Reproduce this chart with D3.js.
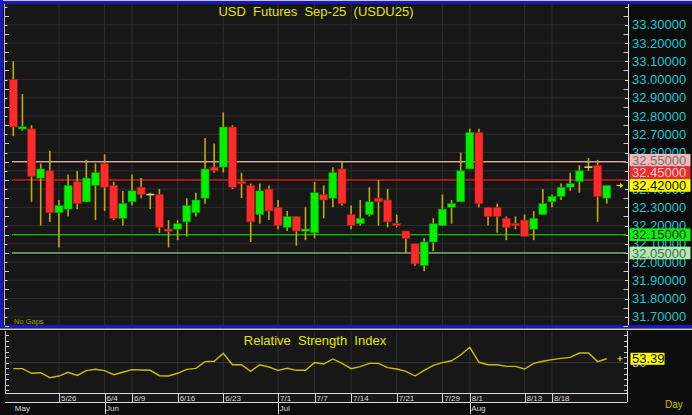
<!DOCTYPE html>
<html><head><meta charset="utf-8">
<script src="https://cdn.jsdelivr.net/npm/d3@7"></script>
<style>
html,body{margin:0;padding:0;background:#0c0c0c;}
svg{display:block;}
text{font-family:"Liberation Sans",Arial,sans-serif;}
</style></head><body>
<svg id="c" width="692" height="415"></svg>
<script>
// ---------------- data ----------------
const dates = ["5/19","5/20","5/21","5/22","5/23","5/26","5/27","5/28","5/29","5/30",
  "6/4","6/5","6/6","6/9","6/10","6/11","6/12","6/13","6/16","6/17","6/18","6/19","6/20",
  "6/23","6/24","6/25","6/26","6/27","6/30","7/1","7/2","7/3","7/4","7/7","7/8","7/9","7/10",
  "7/14","7/15","7/16","7/17","7/18","7/21","7/22","7/23","7/24","7/25","7/29","7/30","7/31",
  "8/1","8/4","8/5","8/6","8/7","8/8","8/13","8/14","8/15","8/18","8/19","8/20","8/21","8/22",
  "8/25","8/26"];
const openV  = [33.00,32.73,32.73,32.46,32.50,32.27,32.29,32.44,32.33,32.42,32.54,32.42,32.24,32.33,32.41,32.37,32.37,32.18,32.18,32.22,32.27,32.35,32.52,32.52,32.74,32.44,32.42,32.26,32.40,32.30,32.19,32.25,32.17,32.16,32.37,32.35,32.51,32.26,32.21,32.26,32.35,32.34,32.21,32.17,32.10,31.98,32.11,32.20,32.30,32.33,32.51,32.71,32.30,32.30,32.24,32.21,32.23,32.18,32.26,32.33,32.36,32.41,32.44,32.52,32.53,32.35];
const highV  = [33.10,32.92,32.75,32.54,32.61,32.34,32.48,32.50,32.56,32.54,32.59,32.44,32.39,32.48,32.46,32.38,32.40,32.23,32.23,32.35,32.38,32.68,32.65,32.82,32.75,32.49,32.43,32.43,32.42,32.34,32.28,32.25,32.30,32.44,32.42,32.52,32.55,32.31,32.34,32.41,32.45,32.40,32.26,32.17,32.10,32.13,32.24,32.37,32.34,32.60,32.73,32.73,32.30,32.32,32.25,32.25,32.26,32.28,32.40,32.37,32.43,32.49,32.53,32.57,32.56,32.42];
const lowV   = [32.69,32.72,32.33,32.20,32.22,32.08,32.25,32.29,32.33,32.23,32.28,32.23,32.20,32.31,32.35,32.29,32.16,32.08,32.12,32.14,32.25,32.32,32.49,32.49,32.40,32.35,32.11,32.21,32.23,32.18,32.17,32.09,32.12,32.13,32.24,32.30,32.31,32.18,32.20,32.25,32.20,32.19,32.19,32.05,31.98,31.95,32.06,32.20,32.21,32.33,32.51,32.30,32.20,32.16,32.12,32.18,32.14,32.12,32.26,32.30,32.34,32.39,32.38,32.50,32.22,32.32];
const closeV = [32.74,32.74,32.47,32.51,32.27,32.31,32.42,32.32,32.46,32.49,32.41,32.24,32.32,32.39,32.37,32.37,32.19,32.17,32.21,32.31,32.34,32.51,32.50,32.74,32.41,32.43,32.22,32.39,32.28,32.20,32.25,32.17,32.18,32.38,32.34,32.49,32.32,32.20,32.24,32.33,32.33,32.22,32.20,32.13,31.99,32.11,32.21,32.29,32.32,32.50,32.71,32.32,32.25,32.25,32.19,32.20,32.14,32.24,32.32,32.36,32.41,32.43,32.50,32.52,32.36,32.42];
const rsiV = [44.4,44.4,40.2,40.7,36.2,37.7,41.1,38.3,42.6,43.8,
  42.6,38.9,41.1,43.5,43.2,42.9,38.0,37.7,40.2,43.8,
  44.7,50.8,51.1,58.3,48.0,48.0,42.0,48.0,45.9,42.9,
  44.7,42.9,42.9,49.9,48.6,53.2,49.2,44.4,46.2,49.2,
  49.2,45.3,44.1,42.0,37.7,42.9,47.4,49.9,51.6,56.8,
  63.8,50.2,48.0,48.0,46.5,46.5,44.1,49.2,51.1,52.6,
  53.8,54.7,58.6,58.6,50.8,53.39];
const priceTicks = [33.3,33.2,33.1,33.0,32.9,32.8,32.7,32.6,32.5,32.4,32.3,32.2,32.1,32.0,31.9,31.8,31.7];
const tickDates = ["5/26","6/4","6/9","6/16","6/23","7/1","7/7","7/14","7/21","7/29","8/1","8/13","8/18"];
const monthNames = ["May","Jun","Jul","Aug"];
const monthStarts = ["5/19","6/4","7/1","8/1"];
const levelValues = [32.55,32.45,32.15,32.05];
const levelLine   = ["#d8a8a0","#d02020","#10b010","#70b870"];
const levelBox    = ["#f6b8b8","#f02a2a","#10f010","#a8eea8"];
const levelText   = ["#707070","#ffd0d0","#003000","#606060"];
const lastPrice = 32.42;
const lastRsi = 53.39;
const rsiTicks = [25,30,35,40,45,50,55,60,65,70,75];
const title = "USD  Futures  Sep-25  (USDU25)";
const rsiTitle = "Relative  Strength  Index";

// ---------------- layout ----------------
const svg = d3.select("#c");
const plotL = 4, plotR = 628, mainT = 4, mainB = 325;
const rsiT = 331, rsiB = 393, rowB = 402;
const x = d3.scaleLinear().domain([0, dates.length - 1]).range([13.3, 606.75]);
const y = d3.scaleLinear().domain([31.7, 33.3]).range([316.8, 24.8]);
const yr = d3.scaleLinear().domain([25, 75]).range([390, 335]);
const idx = d => dates.indexOf(d);
const fmt = d3.format(".5f");

// frame
svg.append("rect").attr("x",0).attr("y",0).attr("width",692).attr("height",415).attr("fill","#0c0c0c");
svg.append("rect").attr("x",plotL).attr("y",mainT).attr("width",plotR-plotL).attr("height",mainB-mainT).attr("fill","#171717");
svg.append("rect").attr("x",plotL).attr("y",rsiT).attr("width",627-plotL).attr("height",rowB-rsiT).attr("fill","#171717");
svg.append("rect").attr("x",0).attr("y",0).attr("width",692).attr("height",1).attr("fill","#c8c8c8");
svg.append("rect").attr("x",0).attr("y",1).attr("width",692).attr("height",3).attr("fill","#1818c0");
svg.append("rect").attr("x",0).attr("y",0).attr("width",3).attr("height",327).attr("fill","#1818c0");
svg.append("rect").attr("x",0).attr("y",325).attr("width",692).attr("height",3).attr("fill","#1818c0");
svg.append("rect").attr("x",0).attr("y",328.5).attr("width",692).attr("height",1.5).attr("fill","#d0d0d0");

// grids main
const gMain = svg.append("g");
gMain.selectAll("line.h").data(priceTicks).join("line")
  .attr("x1",plotL).attr("x2",plotR).attr("y1",d=>y(d)).attr("y2",d=>y(d))
  .attr("stroke","#2e2e2e").attr("stroke-width",1);
gMain.selectAll("line.v").data(tickDates).join("line")
  .attr("x1",d=>x(idx(d))).attr("x2",d=>x(idx(d))).attr("y1",mainT).attr("y2",mainB)
  .attr("stroke","#2e2e2e").attr("stroke-width",1);

// left/right ticks main
const minor = d3.range(31.65, 33.42, 0.05);
svg.append("line").attr("x1",4.5).attr("x2",4.5).attr("y1",mainT).attr("y2",mainB).attr("stroke","#bbbbbb");
svg.selectAll("line.lt").data(minor).join("line")
  .attr("x1",5).attr("x2",(d,i)=> i%2? 7.5 : 9).attr("y1",d=>Math.round(y(d))+0.5).attr("y2",d=>Math.round(y(d))+0.5)
  .attr("stroke","#cccccc");
svg.append("line").attr("x1",628.5).attr("x2",628.5).attr("y1",mainT).attr("y2",mainB).attr("stroke","#e0e0e0");
svg.selectAll("line.rt").data(minor).join("line")
  .attr("x1",(d,i)=> i%2? 625 : 623.5).attr("x2",628).attr("y1",d=>Math.round(y(d))+0.5).attr("y2",d=>Math.round(y(d))+0.5)
  .attr("stroke","#cccccc");

// level lines
levelValues.forEach((v,i)=>{
  svg.append("line").attr("x1",12).attr("x2",626).attr("y1",y(v)+1.3).attr("y2",y(v)+1.3).attr("stroke","#000").attr("stroke-width",1);
  svg.append("line").attr("x1",12).attr("x2",626).attr("y1",y(v)).attr("y2",y(v)).attr("stroke",levelLine[i]).attr("stroke-width",1.6);
});

// candles
const data = dates.map((d,i)=>({i, o:openV[i], h:highV[i], l:lowV[i], c:closeV[i]}));
const gC = svg.append("g");
gC.selectAll("line.w").data(data).join("line")
  .attr("x1",d=>x(d.i)).attr("x2",d=>x(d.i)).attr("y1",d=>y(d.h)).attr("y2",d=>y(d.l))
  .attr("stroke","#c0ac00").attr("stroke-width",1.6);
gC.selectAll("rect.b").data(data.filter(d=>d.o!==d.c)).join("rect")
  .attr("x",d=>x(d.i)-4).attr("width",8)
  .attr("y",d=>{const t=y(Math.max(d.o,d.c)), b=y(Math.min(d.o,d.c)); return b-t<2.2 ? (t+b)/2-1.1 : t;})
  .attr("height",d=>Math.max(2.2, y(Math.min(d.o,d.c))-y(Math.max(d.o,d.c))))
  .attr("fill",d=>d.c>d.o?"#00f000":"#ff2a2a")
  .attr("stroke",d=>d.c>d.o?"#009000":"#a01818").attr("stroke-width",0.6);
gC.selectAll("line.dj").data(data.filter(d=>d.o===d.c)).join("line")
  .attr("x1",d=>x(d.i)-4).attr("x2",d=>x(d.i)+4).attr("y1",d=>y(d.o)).attr("y2",d=>y(d.o))
  .attr("stroke","#e0d890").attr("stroke-width",1.6);

// price labels
svg.selectAll("text.pl").data(priceTicks).join("text")
  .attr("x",632).attr("y",d=>y(d)+4.6).attr("font-size",13).attr("fill","#18c8d4").text(d=>fmt(d));

// colored boxes, stacked upward from the last price
const boxes = levelValues.map((v,i)=>({v, bg:levelBox[i], fg:levelText[i]}));
boxes.push({v:lastPrice, bg:"#ffff00", fg:"#101010", last:true});
const bh = 12.6;
const upper = boxes.filter(b=>b.v>=lastPrice).sort((a,b)=>a.v-b.v);
let prev = null;
upper.forEach(b=>{ b.cy = y(b.v); if(prev && b.cy > prev.cy - bh) b.cy = prev.cy - bh; prev = b; });
boxes.filter(b=>b.v<lastPrice).forEach(b=>b.cy=y(b.v));
const gB = svg.append("g");
boxes.forEach(b=>{
  gB.append("rect").attr("x",629.5).attr("y",b.cy-bh/2).attr("width",61).attr("height",bh).attr("fill",b.bg);
  gB.append("text").attr("x",632).attr("y",b.cy+4.6).attr("font-size",13).attr("fill",b.fg).text(fmt(b.v));
});
// current price arrow
const ay = y(lastPrice);
svg.append("line").attr("x1",616.5).attr("x2",622).attr("y1",ay).attr("y2",ay).attr("stroke","#e0d000").attr("stroke-width",1.2);
svg.append("path").attr("d",`M620,${ay-2.5}L623.5,${ay}L620,${ay+2.5}Z`).attr("fill","#e0d000");

// titles
svg.append("text").attr("x",316).attr("y",15.5).attr("text-anchor","middle").attr("font-size",13).attr("fill","#e6e600").attr("xml:space","preserve").style("white-space","pre").text(title);
svg.append("text").attr("x",14).attr("y",324.3).attr("font-size",7.5).attr("fill","#a8a000").text("No Gaps");

// ---------------- RSI panel ----------------
svg.selectAll("line.rv").data(tickDates).join("line")
  .attr("x1",d=>x(idx(d))).attr("x2",d=>x(idx(d))).attr("y1",rsiT).attr("y2",rsiB)
  .attr("stroke","#2e2e2e");
svg.append("line").attr("x1",plotL).attr("x2",627).attr("y1",yr(50)).attr("y2",yr(50)).attr("stroke","#333");
svg.append("line").attr("x1",5.5).attr("x2",5.5).attr("y1",rsiT).attr("y2",rsiB).attr("stroke","#bbbbbb");
svg.selectAll("line.rlt").data(rsiTicks).join("line")
  .attr("x1",6).attr("x2",9).attr("y1",d=>Math.round(yr(d))+0.5).attr("y2",d=>Math.round(yr(d))+0.5).attr("stroke","#cccccc");
svg.append("line").attr("x1",627.5).attr("x2",627.5).attr("y1",rsiT).attr("y2",rowB).attr("stroke","#e0e0e0");
svg.selectAll("line.rrt").data(rsiTicks).join("line")
  .attr("x1",624).attr("x2",627).attr("y1",d=>Math.round(yr(d))+0.5).attr("y2",d=>Math.round(yr(d))+0.5).attr("stroke","#cccccc");
svg.append("text").attr("x",315).attr("y",344.5).attr("text-anchor","middle").attr("font-size",13).attr("fill","#e6e600").style("white-space","pre").text(rsiTitle);

const line = d3.line().x((d,i)=>x(i)).y(d=>yr(d));
svg.append("path").attr("d",line(rsiV)).attr("fill","none").attr("stroke","#c8c000").attr("stroke-width",1.4);

// RSI axis label
svg.append("text").attr("x",632).attr("y",yr(50)+4.6).attr("font-size",13).attr("fill","#b8c8e0").text("50");
svg.append("rect").attr("x",630.5).attr("y",yr(lastRsi)-6).attr("width",34).attr("height",12).attr("fill","#ffff00");
svg.append("text").attr("x",632).attr("y",yr(lastRsi)+4.6).attr("font-size",13).attr("fill","#101010").text(d3.format(".2f")(lastRsi));
const ry = yr(lastRsi);
svg.append("path").attr("d",`M617.5,${ry}H622.5M620,${ry-2.5}V${ry+2.5}`).attr("stroke","#e0d000").attr("stroke-width",1.2);

// date axis rows
svg.append("line").attr("x1",5).attr("x2",627).attr("y1",rsiB+0.5).attr("y2",rsiB+0.5).attr("stroke","#d8d8d8");
svg.append("line").attr("x1",5).attr("x2",627).attr("y1",rowB+0.5).attr("y2",rowB+0.5).attr("stroke","#d8d8d8");
svg.selectAll("line.ds").data(tickDates).join("line")
  .attr("x1",d=>Math.round(x(idx(d)))+0.5).attr("x2",d=>Math.round(x(idx(d)))+0.5).attr("y1",rsiB).attr("y2",rowB)
  .attr("stroke","#d8d8d8");
svg.selectAll("text.dl").data(tickDates).join("text")
  .attr("x",d=>x(idx(d))+2).attr("y",rowB-1).attr("font-size",8).attr("fill","#d8d8d8").text(d=>d);
svg.selectAll("line.ms").data(monthStarts.slice(1)).join("line")
  .attr("x1",d=>Math.round(x(idx(d)))+0.5).attr("x2",d=>Math.round(x(idx(d)))+0.5).attr("y1",rowB).attr("y2",414)
  .attr("stroke","#d8d8d8");
svg.selectAll("text.ml").data(monthNames).join("text")
  .attr("x",(d,i)=>x(idx(monthStarts[i]))+1.5).attr("y",411).attr("font-size",8).attr("fill","#d8d8d8").text(d=>d);
svg.append("text").attr("x",665).attr("y",408).attr("font-size",10).attr("fill","#c8c800").text("Day");
</script>
</body></html>
